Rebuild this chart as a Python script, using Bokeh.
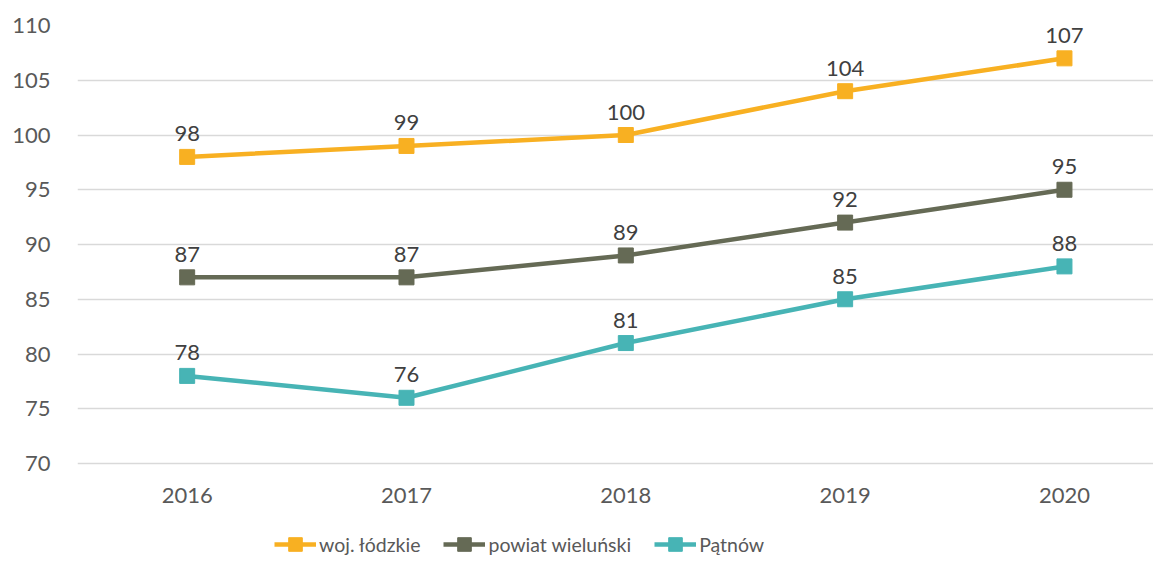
from bokeh.plotting import figure
from bokeh.models import Range1d, ColumnDataSource, LabelSet, Legend, LegendItem, FixedTicker
from bokeh.core.properties import value
from bokeh.embed import file_html
from bokeh.resources import INLINE

years = ["2016", "2017", "2018", "2019", "2020"]
woj_lodzkie = [98, 99, 100, 104, 107]
powiat_wielunski = [87, 87, 89, 92, 95]
patnow = [78, 76, 81, 85, 88]
series_names = ["woj. łódzkie", "powiat wieluński", "Pątnów"]
series_colors = ["#F8B022", "#656A55", "#47B4B5"]
y_ticks = [70, 75, 80, 85, 90, 95, 100, 105, 110]

FONT = "Lato"
xs = list(range(len(years)))

# frame spans 25..558 px vertically; value 70 sits at 463 px
y_min = y_ticks[0] - (558 - 463) * (y_ticks[-1] - y_ticks[0]) / 438.0

p = figure(width=1153, height=558, output_backend="svg", toolbar_location=None,
           x_range=Range1d(-0.5, 4.406), y_range=Range1d(y_min, y_ticks[-1]),
           min_border_left=77, min_border_right=0, min_border_top=25, min_border_bottom=0)
p.outline_line_color = None
p.xgrid.grid_line_color = None
p.ygrid.grid_line_color = "#D9D9D9"
p.ygrid.grid_line_width = 1.5
p.xaxis.visible = False

p.yaxis.ticker = FixedTicker(ticks=y_ticks)
p.yaxis.axis_line_color = None
p.yaxis.major_tick_line_color = None
p.yaxis.minor_tick_line_color = None
p.yaxis.major_label_text_font = FONT
p.yaxis.major_label_text_font_size = "22px"
p.yaxis.major_label_text_color = "#595959"
p.yaxis.major_label_standoff = 21

# category labels under the 70 line
cat_src = ColumnDataSource(dict(x=xs, y=[y_ticks[0]] * len(xs), t=years))
p.add_layout(LabelSet(x="x", y="y", text="t", source=cat_src, y_offset=-32,
                      text_align="center", text_baseline="middle",
                      text_font=value(FONT), text_font_size="22px", text_color="#595959"))

items = []
for name, vals, col in zip(series_names, [woj_lodzkie, powiat_wielunski, patnow], series_colors):
    src = ColumnDataSource(dict(x=xs, y=vals, t=[str(v) for v in vals]))
    r1 = p.line("x", "y", source=src, line_color=col, line_width=4.5)
    r2 = p.scatter("x", "y", source=src, marker="square", size=15, fill_color=col, line_color=col)
    p.add_layout(LabelSet(x="x", y="y", text="t", source=src, y_offset=23,
                          text_align="center", text_baseline="middle",
                          text_font=value(FONT), text_font_size="22px", text_color="#404040"))
    items.append(LegendItem(label=name, renderers=[r1, r2]))

legend = Legend(items=items, orientation="horizontal", location=(197, -3),
                glyph_width=42, glyph_height=34, label_height=34, label_standoff=3,
                spacing=23, padding=0, margin=0, border_line_color=None,
                background_fill_alpha=0, label_text_font=FONT,
                label_text_font_size="19.5px", label_text_color="#595959")
p.add_layout(legend, "center")

open("out.html", "w").write(file_html(p, INLINE))
